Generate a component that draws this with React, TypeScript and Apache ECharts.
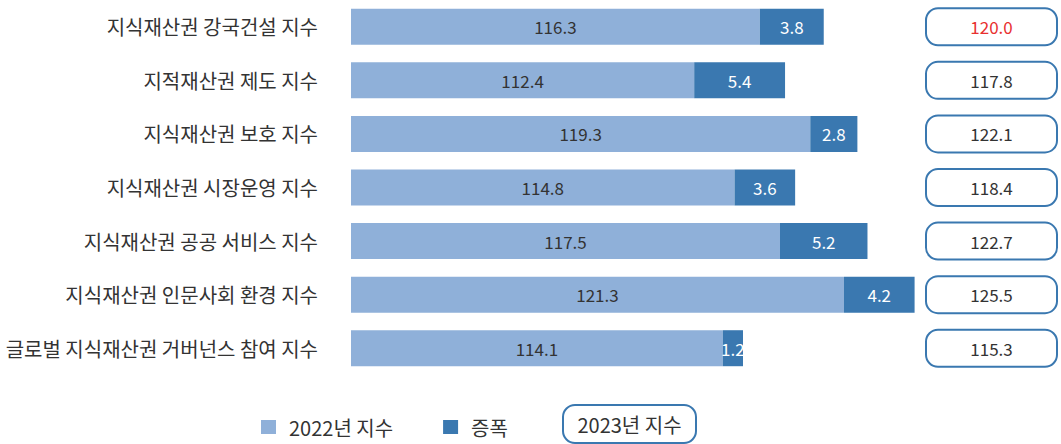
import React, { useEffect, useRef } from "react";
import * as echarts from "echarts";

const categories = [
  "지식재산권 강국건설 지수",
  "지적재산권 제도 지수",
  "지식재산권 보호 지수",
  "지식재산권 시장운영 지수",
  "지식재산권 공공 서비스 지수",
  "지식재산권 인문사회 환경 지수",
  "글로벌 지식재산권 거버넌스 참여 지수",
];
const index2022 = [116.3, 112.4, 119.3, 114.8, 117.5, 121.3, 114.1];
const increase = [3.8, 5.4, 2.8, 3.6, 5.2, 4.2, 1.2];
const index2023 = [120.0, 117.8, 122.1, 118.4, 122.7, 125.5, 115.3];

const LIGHT = "#8fb0d9";
const DARK = "#3a78b0";
const FONT = "'Noto Sans CJK KR', 'Noto Sans', sans-serif";

export default function App() {
  const ref = useRef<HTMLDivElement>(null);
  useEffect(() => {
    document.body.style.margin = "0";
    if (!ref.current) return;
    const chart = echarts.init(ref.current, undefined, { renderer: "svg" });
    const boxStyle = {
      width: 131,
      height: 37,
      align: "center",
      verticalAlign: "middle",
      borderColor: DARK,
      borderWidth: 2,
      borderRadius: 12,
      fontSize: 17,
      fontFamily: FONT,
    };
    chart.setOption({
      animation: false,
      textStyle: { fontFamily: FONT },
      grid: { left: 351, top: -4, width: 576, height: 379, containLabel: false },
      xAxis: { type: "value", min: 92, max: 126, show: false },
      yAxis: [
        {
          type: "category",
          data: categories,
          inverse: true,
          axisLine: { show: false },
          axisTick: { show: false },
          splitLine: { show: false },
          axisLabel: { margin: 33, fontSize: 20, color: "#333", fontFamily: FONT },
        },
        {
          type: "category",
          data: categories,
          inverse: true,
          position: "right",
          axisLine: { show: false },
          axisTick: { show: false },
          splitLine: { show: false },
          axisLabel: {
            margin: 3,
            formatter: (_v: string, i: number) =>
              i === 0 ? `{r|${index2023[i].toFixed(1)}}` : `{n|${index2023[i].toFixed(1)}}`,
            rich: {
              r: { ...boxStyle, color: "#e8302f" },
              n: { ...boxStyle, color: "#333" },
            },
          },
        },
      ],
      legend: {
        left: 256,
        top: 412,
        icon: "rect",
        itemWidth: 15,
        itemHeight: 14,
        itemGap: 50,
        textStyle: { fontSize: 20, color: "#333", fontFamily: FONT, padding: [0, 0, 0, 8] },
        data: ["2022년 지수", "증폭"],
      },
      graphic: [
        {
          type: "group",
          left: 562,
          top: 404,
          children: [
            {
              type: "rect",
              shape: { x: 0, y: 0, width: 133, height: 38, r: 12 },
              style: { fill: "#fff", stroke: DARK, lineWidth: 2 },
            },
            {
              type: "text",
              x: 66.5,
              y: 19,
              style: {
                text: "2023년 지수",
                fontSize: 20,
                fontFamily: FONT,
                fill: "#333",
                align: "center",
                verticalAlign: "middle",
              },
            },
          ],
        },
      ],
      series: [
        {
          name: "2022년 지수",
          type: "bar",
          stack: "total",
          barWidth: 36,
          itemStyle: { color: LIGHT },
          label: {
            show: true,
            position: "inside",
            color: "#333",
            fontSize: 17,
            fontFamily: FONT,
            formatter: (p: any) => Number(p.value).toFixed(1),
          },
          data: index2022,
        },
        {
          name: "증폭",
          type: "bar",
          stack: "total",
          barWidth: 36,
          itemStyle: { color: DARK },
          label: {
            show: true,
            position: "inside",
            color: "#fff",
            fontSize: 17,
            fontFamily: FONT,
            formatter: (p: any) => Number(p.value).toFixed(1),
          },
          data: increase,
        },
      ],
    });
    return () => chart.dispose();
  }, []);
  return <div ref={ref} style={{ width: 1061, height: 444 }} />;
}
